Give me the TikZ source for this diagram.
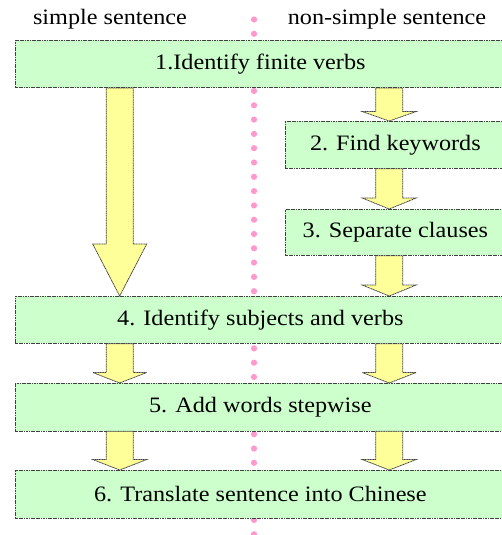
\documentclass[tikz,border=0pt]{standalone}
\usepackage{fontspec}
\setmainfont[FakeStretch=1.1]{Liberation Serif}
\usetikzlibrary{calc}
\definecolor{boxgreen}{HTML}{CCFFCC}
\definecolor{arrowyellow}{HTML}{FFFF99}
\definecolor{dotpink}{HTML}{FF99CC}
\definecolor{edgegray}{HTML}{404040}
\tikzset{
  stepbox/.style={draw=edgegray, line width=0.75pt, dash pattern=on 1.2pt off 0.5pt,
    fill=boxgreen, inner sep=0pt, anchor=north west,
    font=\fontsize{22}{26}\selectfont},
  arrowbody/.style={draw=edgegray, line width=0.75pt, dash pattern=on 1.2pt off 0.5pt,
    fill=arrowyellow, line join=miter},
  heading/.style={inner sep=0pt, font=\fontsize{22}{26}\selectfont}
}
% block arrow: #1 = x of its axis, #2 = upper node, #3 = lower node, #4 = head length
\newcommand\flowarrow[4]{%
  \path[arrowbody] let \p1=(#2.south), \p2=(#3.north) in
    (#1pt-13.5pt,\y1) -- (#1pt+13.5pt,\y1) -- (#1pt+13.5pt,\y2+#4pt)
    -- (#1pt+27pt,\y2+#4pt) -- (#1pt,\y2) -- (#1pt-27pt,\y2+#4pt)
    -- (#1pt-13.5pt,\y2+#4pt) -- cycle;}
\begin{document}
\begin{tikzpicture}[x=1pt,y=-1pt]
  \useasboundingbox (0,0) rectangle (502,535);
  \clip (0,0) rectangle (502,535);
  \fill[white] (0,0) rectangle (502,535);

  % pink dotted divider between the two columns
  \foreach \k in {0,...,36}
    \fill[dotpink] (254,19.5+14.3*\k) circle (3.1pt);

  % column headings
  \node[heading] (hsimple) at (110,19) {simple sentence};
  \node[heading] (hcomplex) at (387,19) {non-simple sentence};

  % steps
  \node[stepbox, minimum width=490pt, minimum height=47.3pt] (s1) at (15,40) {1.Identify finite verbs};
  \node[stepbox, minimum width=220pt, minimum height=47pt] (s2) at (285,121) {2. Find keywords};
  \node[stepbox, minimum width=220pt, minimum height=46pt] (s3) at (285,209) {3. Separate clauses};
  \node[stepbox, minimum width=490pt, minimum height=47pt] (s4) at (15,296) {4. Identify subjects and verbs};
  \node[stepbox, minimum width=490pt, minimum height=47.5pt] (s5) at (15,383) {5. Add words stepwise};
  \node[stepbox, minimum width=490pt, minimum height=48pt] (s6) at (15,470) {6. Translate sentence into Chinese};

  % arrows
  \flowarrow{119.7}{s1}{s4}{52}
  \flowarrow{389.2}{s1}{s2}{9.5}
  \flowarrow{389.2}{s2}{s3}{11}
  \flowarrow{389.2}{s3}{s4}{11}
  \flowarrow{119.7}{s4}{s5}{10.5}
  \flowarrow{389.2}{s4}{s5}{10.5}
  \flowarrow{119.7}{s5}{s6}{10.5}
  \flowarrow{389.2}{s5}{s6}{10.5}
\end{tikzpicture}
\end{document}
